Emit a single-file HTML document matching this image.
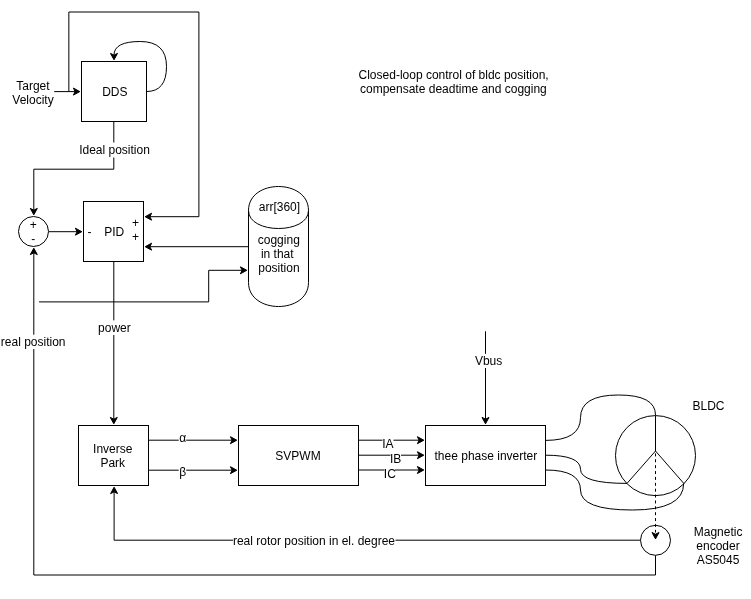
<!DOCTYPE html>
<html><head><meta charset="utf-8"><style>
html,body{margin:0;padding:0;background:#fff;width:751px;height:599px;overflow:hidden}
svg{display:block;will-change:transform}
text{font-family:"Liberation Sans",sans-serif;fill:#000}
</style></head><body>
<svg width="751" height="599" viewBox="0 0 751 599">
<rect x="0" y="0" width="751" height="599" fill="#fff"/>
<path d="M198.90,216.70 L198.90,12.00 L68.85,12.00 L68.85,91.60" fill="none" stroke="#000" />
<path d="M79.80,91.60 L73.38,88.10 L75.13,91.60 L73.38,95.10 Z" fill="#000" stroke="#000"/>
<path d="M54.20,91.60 L75.13,91.60" fill="none" stroke="#000" />
<path d="M145.20,216.70 L151.62,220.20 L149.87,216.70 L151.62,213.20 Z" fill="#000" stroke="#000"/>
<path d="M198.90,216.70 L149.87,216.70" fill="none" stroke="#000" />
<path d="M146.5,91.5 Q166.5,91.5 166.5,66.5 Q166.5,41.5 140.25,41.5 Q114,41.5 114,55.1" fill="none" stroke="#000"/>
<path d="M114.00,59.80 L117.50,53.38 L114.00,55.13 L110.50,53.38 Z" fill="#000" stroke="#000"/>
<path d="M33.80,214.80 L37.30,208.38 L33.80,210.13 L30.30,208.38 Z" fill="#000" stroke="#000"/>
<path d="M113.80,121.50 L113.80,169.20 L33.80,169.20 L33.80,210.13" fill="none" stroke="#000" />
<path d="M81.80,231.70 L75.38,228.20 L77.13,231.70 L75.38,235.20 Z" fill="#000" stroke="#000"/>
<path d="M48.50,231.70 L77.13,231.70" fill="none" stroke="#000" />
<path d="M145.20,246.70 L151.62,250.20 L149.87,246.70 L151.62,243.20 Z" fill="#000" stroke="#000"/>
<path d="M248.50,246.70 L149.87,246.70" fill="none" stroke="#000" />
<path d="M246.80,270.30 L240.38,266.80 L242.13,270.30 L240.38,273.80 Z" fill="#000" stroke="#000"/>
<path d="M39.00,301.90 L208.70,301.90 L208.70,270.30 L242.13,270.30" fill="none" stroke="#000" />
<path d="M113.80,423.80 L117.30,417.38 L113.80,419.13 L110.30,417.38 Z" fill="#000" stroke="#000"/>
<path d="M113.80,261.50 L113.80,419.13" fill="none" stroke="#000" />
<path d="M236.80,440.20 L230.38,436.70 L232.13,440.20 L230.38,443.70 Z" fill="#000" stroke="#000"/>
<path d="M148.50,440.20 L232.13,440.20" fill="none" stroke="#000" />
<path d="M236.80,470.20 L230.38,466.70 L232.13,470.20 L230.38,473.70 Z" fill="#000" stroke="#000"/>
<path d="M148.50,470.20 L232.13,470.20" fill="none" stroke="#000" />
<path d="M423.80,440.20 L417.38,436.70 L419.13,440.20 L417.38,443.70 Z" fill="#000" stroke="#000"/>
<path d="M358.50,440.20 L419.13,440.20" fill="none" stroke="#000" />
<path d="M423.80,455.20 L417.38,451.70 L419.13,455.20 L417.38,458.70 Z" fill="#000" stroke="#000"/>
<path d="M358.50,455.20 L419.13,455.20" fill="none" stroke="#000" />
<path d="M423.80,470.00 L417.38,466.50 L419.13,470.00 L417.38,473.50 Z" fill="#000" stroke="#000"/>
<path d="M358.50,470.00 L419.13,470.00" fill="none" stroke="#000" />
<path d="M485.50,423.80 L489.00,417.38 L485.50,419.13 L482.00,417.38 Z" fill="#000" stroke="#000"/>
<path d="M485.50,331.30 L485.50,419.13" fill="none" stroke="#000" />
<path d="M114.10,487.20 L110.60,493.62 L114.10,491.87 L117.60,493.62 Z" fill="#000" stroke="#000"/>
<path d="M640.50,540.20 L114.10,540.20 L114.10,491.87" fill="none" stroke="#000" />
<path d="M33.80,248.20 L30.30,254.62 L33.80,252.87 L37.30,254.62 Z" fill="#000" stroke="#000"/>
<path d="M655.50,555.50 L655.50,575.00 L33.80,575.00 L33.80,252.87" fill="none" stroke="#000" />
<path d="M545.5,440.4 Q580.5,440.4 580.5,417.7 Q580.5,395 618.5,395 Q655.5,395 655.5,415" fill="none" stroke="#000"/>
<path d="M545.5,455.2 Q580.5,455.2 580.5,469.3 Q580.5,483.4 627,483.4" fill="none" stroke="#000"/>
<path d="M545.5,470 Q580.5,470 580.5,490 Q580.5,510 632.5,510 Q683.7,510 683.7,483.3" fill="none" stroke="#000"/>
<path d="M655.5,453.4 L655.5,532.5" fill="none" stroke="#000" stroke-dasharray="3 2.88"/>
<path d="M655.50,538.90 L659.00,532.48 L655.50,534.23 L652.00,532.48 Z" fill="#000" stroke="#000"/>
<rect x="81.5" y="61.5" width="65" height="60" fill="#fff" stroke="#000"/>
<rect x="83.5" y="201.5" width="60" height="60" fill="#fff" stroke="#000"/>
<circle cx="33.5" cy="231.5" r="15" fill="#fff" stroke="#000"/>
<path d="M248.5,210.5 C248.5,178.5 308.5,178.5 308.5,210.5 L308.5,282.5 C308.5,314.5 248.5,314.5 248.5,282.5 Z" fill="#fff" stroke="#000"/>
<path d="M248.5,210.5 C248.5,234.5 308.5,234.5 308.5,210.5" fill="none" stroke="#000"/>
<rect x="78.5" y="425.5" width="70" height="60" fill="#fff" stroke="#000"/>
<rect x="238.5" y="425.5" width="120" height="60" fill="#fff" stroke="#000"/>
<rect x="425.5" y="425.5" width="120" height="60" fill="#fff" stroke="#000"/>
<circle cx="655.5" cy="455.6" r="40" fill="none" stroke="#000"/>
<path d="M655.5,415.5 L655.5,451 L627,483.4 M655.5,451 L683.7,483.3" fill="none" stroke="#000"/>
<circle cx="655.5" cy="540.3" r="15" fill="none" stroke="#000"/>
<rect x="78" y="142.5" width="71.5" height="15" fill="#fff"/>
<rect x="97" y="320.4" width="34" height="14.6" fill="#fff"/>
<rect x="0" y="334.7" width="66" height="14.3" fill="#fff"/>
<rect x="474.5" y="353.8" width="28.5" height="14.2" fill="#fff"/>
<rect x="178.7" y="433" width="7.5" height="10" fill="#fff"/>
<rect x="178.7" y="463" width="7.5" height="12" fill="#fff"/>
<rect x="382.5" y="435" width="11" height="13" fill="#fff"/>
<rect x="390.5" y="450" width="10.5" height="13" fill="#fff"/>
<rect x="384.5" y="465" width="10.5" height="13" fill="#fff"/>
<rect x="233" y="535" width="162.5" height="10" fill="#fff"/>
<text x="32.9" y="89.8" text-anchor="middle" font-size="12">Target</text>
<text x="33.0" y="103.8" text-anchor="middle" font-size="12">Velocity</text>
<text x="114.8" y="95.85" text-anchor="middle" font-size="12">DDS</text>
<text x="114.5" y="154.2" text-anchor="middle" font-size="12">Ideal position</text>
<text x="453.6" y="78.55" text-anchor="middle" font-size="12">Closed-loop control of bldc position,</text>
<text x="453.4" y="92.5" text-anchor="middle" font-size="12">compensate deadtime and cogging</text>
<text x="33.2" y="228.5" text-anchor="middle" font-size="12">+</text>
<text x="33.2" y="242.5" text-anchor="middle" font-size="12">-</text>
<text x="89.5" y="236" text-anchor="middle" font-size="12">-</text>
<text x="114.2" y="236" text-anchor="middle" font-size="12">PID</text>
<text x="135.6" y="226.5" text-anchor="middle" font-size="12">+</text>
<text x="135.6" y="240.6" text-anchor="middle" font-size="12">+</text>
<text x="279.4" y="211.0" text-anchor="middle" font-size="12">arr[360]</text>
<text x="278.8" y="244.0" text-anchor="middle" font-size="12">cogging</text>
<text x="277.3" y="258.2" text-anchor="middle" font-size="12">in that</text>
<text x="278.9" y="271.7" text-anchor="middle" font-size="12">position</text>
<text x="114.4" y="332" text-anchor="middle" font-size="12">power</text>
<text x="33.2" y="345.9" text-anchor="middle" font-size="12">real position</text>
<text x="488.6" y="364.6" text-anchor="middle" font-size="12">Vbus</text>
<text x="708.5" y="409.8" text-anchor="middle" font-size="12">BLDC</text>
<text x="112.75" y="453.1" text-anchor="middle" font-size="12">Inverse</text>
<text x="112.75" y="466.8" text-anchor="middle" font-size="12">Park</text>
<text x="182.6" y="442" text-anchor="middle" font-size="12">α</text>
<text x="182.6" y="475.5" text-anchor="middle" font-size="12">β</text>
<text x="298" y="459.9" text-anchor="middle" font-size="12">SVPWM</text>
<text x="387.8" y="447.7" text-anchor="middle" font-size="12">IA</text>
<text x="395.6" y="462.8" text-anchor="middle" font-size="12">IB</text>
<text x="389.8" y="477.7" text-anchor="middle" font-size="12">IC</text>
<text x="485.9" y="460.25" text-anchor="middle" font-size="12">thee phase inverter</text>
<text x="314" y="544.6" text-anchor="middle" font-size="12">real rotor position in el. degree</text>
<text x="718.1" y="535.8" text-anchor="middle" font-size="12">Magnetic</text>
<text x="718" y="549.7" text-anchor="middle" font-size="12">encoder</text>
<text x="718" y="563.6" text-anchor="middle" font-size="12">AS5045</text>
</svg>
</body></html>
